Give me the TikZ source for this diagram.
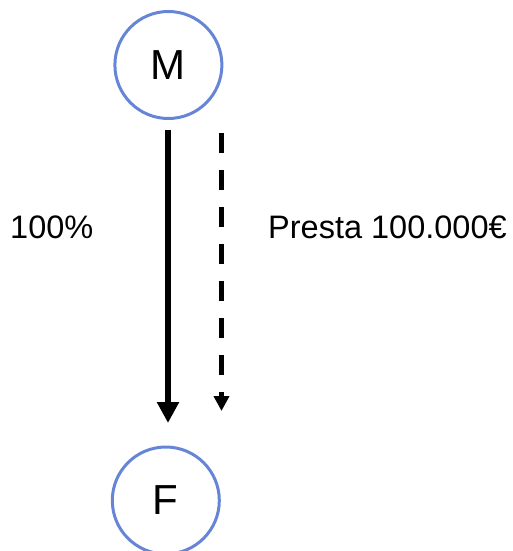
\documentclass[tikz,border=0pt]{standalone}
\usepackage{fontspec}
\setmainfont{Liberation Sans}
\usetikzlibrary{arrows.meta}
\definecolor{circblue}{RGB}{102,133,214}
\begin{document}
\begin{tikzpicture}[x=1pt,y=-1pt,
  entity/.style={circle,draw=circblue,line width=3pt,minimum size=107pt,inner sep=0pt,font=\fontsize{42}{50}\selectfont},
  lbl/.style={inner sep=0pt,font=\fontsize{32.5}{39}\selectfont},
  own/.style={line width=6pt,-{Triangle[length=21pt,width=21pt]}},
  loan/.style={line width=5pt,dash pattern=on 20pt off 17pt,-{Triangle[length=15pt,width=15pt]}}]
\useasboundingbox (0,0) rectangle (513,551);
\node[entity] (M) at (168.4,65) {M};
\node[entity] (F) at (165.8,500.5) {F};
\coordinate (s1) at (168,130);
\coordinate (e1) at (168,423);
\coordinate (s2) at (221.5,133);
\coordinate (e2) at (221.5,411);
\draw[own] (s1) -- (e1);
\draw[loan] (s2) -- (e2);
\node[lbl,anchor=base west] (p) at (10,238) {100\%};
\node[lbl,anchor=base west] (l) at (268,238) {Presta 100.000€};
\end{tikzpicture}
\end{document}
